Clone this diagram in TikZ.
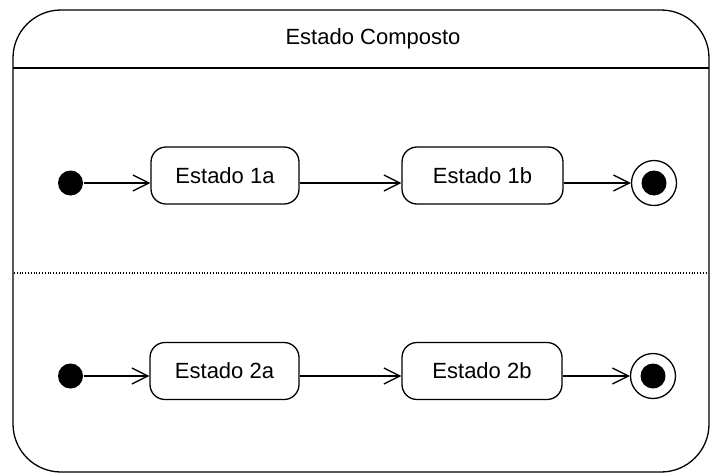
\documentclass[tikz,border=0pt]{standalone}
\usepackage{fontspec}
\setmainfont{Liberation Sans}
\usetikzlibrary{positioning,arrows.meta}

\begin{document}
\begin{tikzpicture}[
  x=1pt, y=-1pt,
  line width=1.3pt,
  >={Straight Barb[length=16pt,width=16pt,line width=1.3pt]},
  estado/.style={draw, rounded corners=15pt, minimum height=57pt,
    font=\fontsize{22}{26}\selectfont},
  inicio/.style={circle, fill, inner sep=0pt, minimum size=25pt},
  fim/.style={circle, draw, inner sep=0pt, minimum size=45pt},
]
\useasboundingbox (0,0) rectangle (711,474);
  % composite state
  \draw[rounded corners=48pt] (13,10) rectangle (709,472);
  \coordinate (tl) at (13,68);
  \coordinate (tr) at (709,68);
  \draw (tl) -- (tr);
  \node[font=\fontsize{22}{26}\selectfont] (titulo) at (373,39) {Estado Composto};
  \coordinate (dl) at (14,273);
  \coordinate (dr) at (708,273);
  \draw[line width=1.1pt, dash pattern=on 1pt off 1.8pt] (dl) -- (dr);

  % first region
  \node[inicio] (i1) at (70.5,183) {};
  \node[estado, minimum width=148pt] (e1a) at (225,175.5) {Estado 1a};
  \node[estado, minimum width=161pt] (e1b) at (482.5,175.5) {Estado 1b};
  \node[fim] (f1) at (654,183) {};
  \node[inicio] (f1p) at (f1.center) {};
\draw[->] (i1) -- (e1a.west |- i1);
\draw[->] (e1a.east |- i1) -- (e1b.west |- i1);
\draw[->] (e1b.east |- f1) -- (f1);

  % second region
  \node[inicio] (i2) at (70.5,376) {};
  \node[estado, minimum width=149pt] (e2a) at (224.5,371) {Estado 2a};
  \node[estado, minimum width=160pt] (e2b) at (482,371) {Estado 2b};
  \node[fim] (f2) at (653,376) {};
  \node[inicio] (f2p) at (f2.center) {};
\draw[->] (i2) -- (e2a.west |- i2);
\draw[->] (e2a.east |- i2) -- (e2b.west |- i2);
\draw[->] (e2b.east |- f2) -- (f2);
\end{tikzpicture}
\end{document}
